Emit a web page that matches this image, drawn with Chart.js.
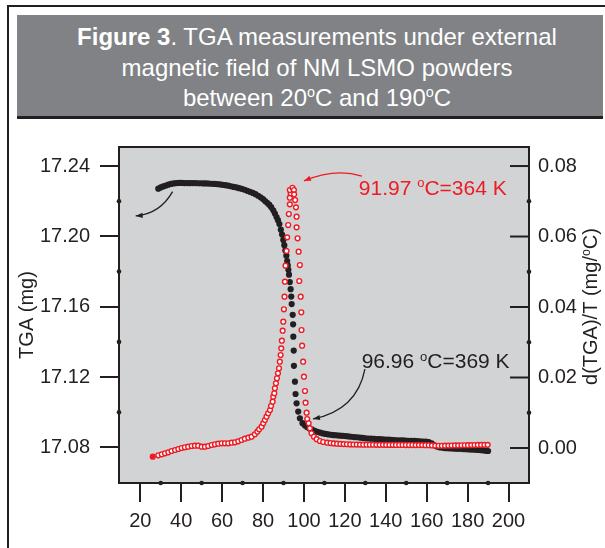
<!DOCTYPE html>
<html>
<head>
<meta charset="utf-8">
<script src="https://cdn.jsdelivr.net/npm/chart.js@4.4.1/dist/chart.umd.min.js"></script>
<style>
html, body { margin: 0; padding: 0; background: #fff; width: 605px; height: 548px; overflow: hidden; }
#frame { position: absolute; left: 7px; top: 5px; width: 640px; height: 600px; border-left: 2px solid #231f20; border-top: 2px solid #231f20; }
#title {
    position: absolute; left: 17px; top: 15px; width: 586px; height: 104px; box-sizing: border-box;
    padding: 7px 0 0 14px; background: #808285; border-bottom: 3px solid #231f20;
    color: #fff; font-family: "Liberation Sans", Arial, sans-serif; font-size: 24px; line-height: 30.5px; text-align: center;
}
#title sup { font-size: 0.6em; vertical-align: 0.6em; line-height: 0; }
#chart { position: absolute; left: 0; top: 0; }
</style>
</head>
<body>
<div id="frame"></div>
<div id="title"><b>Figure 3</b>. TGA measurements under external<br>magnetic field of NM LSMO powders<br>between 20<sup>o</sup>C and 190<sup>o</sup>C</div>
<canvas id="chart" width="605" height="548"></canvas>
<script>
// TGA curve (left axis), temperature in degC, mass in mg
const tgaTemp = [
    28.8, 30.0, 31.2, 32.5, 33.7, 35.0, 36.3, 37.6, 39.0, 40.3,
    41.6, 43.0, 44.3, 45.6, 47.0, 48.3, 49.6, 51.0, 52.3, 53.6,
    55.0, 56.3, 57.6, 59.0, 60.3, 61.6, 63.0, 64.3, 65.6, 67.0,
    68.3, 69.6, 71.0, 72.3, 73.6, 75.0, 76.3, 77.6, 78.8, 80.0,
    81.0, 82.0, 83.0, 84.0, 85.0, 85.8, 86.6, 87.3, 88.0, 88.7,
    89.3, 89.9, 90.4, 90.9, 91.4, 91.8, 92.1,
    92.4, 92.7, 93.1, 93.5, 93.8, 94.0, 94.5, 94.7, 94.8, 95.0,
    95.1, 95.6, 95.9, 96.4, 97.2, 98.0, 99.3, 100.5, 101.5, 102.7,
    104.0, 105.3, 106.6, 108.0, 109.3, 110.6, 112.0,
    113.4, 114.8, 116.2, 117.6, 119.0, 120.4, 121.8, 123.2, 124.6, 126.0,
    127.4, 128.8, 130.2, 131.6, 133.0, 134.4, 135.8, 137.2, 138.6, 140.0,
    141.4, 142.8, 144.2, 145.6, 147.0, 148.4, 149.8, 151.2, 152.6, 154.0,
    155.4, 156.8, 158.2, 159.6, 161.0, 162.4, 163.8, 165.2, 166.6, 168.0,
    169.4, 170.8, 172.2, 173.6, 175.0, 176.4, 177.8, 179.2, 180.6, 182.0,
    183.4, 184.8, 186.2, 187.6, 189.0, 190.0
];
const tgaMass = [
    17.2271, 17.2278, 17.2284, 17.2289, 17.2294, 17.2298, 17.2301, 17.2303, 17.2304, 17.2304,
    17.2303, 17.2303, 17.2303, 17.2303, 17.2303, 17.2302, 17.2302, 17.2301, 17.2301, 17.2300,
    17.2299, 17.2298, 17.2297, 17.2295, 17.2293, 17.2291, 17.2288, 17.2285, 17.2281, 17.2278,
    17.2274, 17.2270, 17.2265, 17.2259, 17.2253, 17.2247, 17.2240, 17.2231, 17.2222, 17.2212,
    17.2201, 17.2191, 17.2180, 17.2166, 17.2148, 17.2130, 17.2110, 17.2092, 17.2070, 17.2038,
    17.2010, 17.1980, 17.1950, 17.1920, 17.1890, 17.1860, 17.1835,
    17.1810, 17.1782, 17.1740, 17.1700, 17.1658, 17.1615, 17.1554, 17.1500, 17.1430, 17.1351,
    17.1264, 17.1174, 17.1104, 17.1051, 17.1004, 17.0966, 17.0938, 17.0925, 17.0916, 17.0908,
    17.0902, 17.0895, 17.0889, 17.0884, 17.0880, 17.0877, 17.0874,
    17.0872, 17.0870, 17.0869, 17.0867, 17.0866, 17.0865, 17.0863, 17.0861, 17.0859, 17.0858,
    17.0856, 17.0854, 17.0852, 17.0851, 17.0850, 17.0849, 17.0848, 17.0847, 17.0846, 17.0845,
    17.0844, 17.0843, 17.0842, 17.0841, 17.0840, 17.0840, 17.0839, 17.0838, 17.0838, 17.0837,
    17.0836, 17.0835, 17.0834, 17.0833, 17.0831, 17.0824, 17.0812, 17.0804, 17.0800, 17.0798,
    17.0796, 17.0795, 17.0794, 17.0793, 17.0792, 17.0792, 17.0791, 17.0790, 17.0789, 17.0788,
    17.0787, 17.0786, 17.0785, 17.0783, 17.0781, 17.0780
];

// derivative curve (right axis), mg/degC
const dtgTemp = [
    26.1, 28.8, 30.5, 32.1, 33.7, 35.3, 37.0, 38.6, 40.2, 41.8,
    43.4, 45.1, 46.7, 48.3, 50.0, 51.6, 53.2, 54.9, 56.5, 58.1,
    59.8, 61.4, 63.0, 64.7, 66.3, 67.9, 69.5, 71.1, 72.8, 74.4,
    76.0, 77.2, 78.1, 79.3, 80.1, 80.9, 81.7, 82.5, 83.4, 83.9,
    84.7, 85.0, 85.5, 85.8, 86.3, 86.8, 87.3, 87.8, 88.2, 88.6,
    88.9, 89.2, 89.6, 89.9, 90.2, 90.5, 90.7, 91.0, 91.5, 91.8,
    92.3, 92.6, 93.1, 93.1, 93.5, 93.1, 94.4, 95.1, 95.2, 95.7,
    96.1, 96.4, 96.4, 96.9, 97.4, 98.0, 97.7, 98.4, 98.7, 98.8,
    99.1, 99.6, 100.0, 100.5, 100.8, 101.3, 101.6, 102.3, 102.9, 103.7,
    104.9, 106.2, 107.8, 109.4, 111.4, 113.0, 114.6, 116.2, 117.8, 119.4,
    121.0, 122.6, 124.2, 125.8, 127.4, 129.0, 130.6, 132.2, 133.8, 135.4,
    137.0, 138.6, 140.2, 141.8, 143.4, 145.0, 146.6, 148.2, 149.8, 151.4,
    153.0, 154.6, 156.2, 157.8, 159.4, 161.0, 162.6, 164.2, 165.8, 167.4,
    169.0, 170.6, 172.2, 173.8, 175.4, 177.0, 178.6, 180.2, 181.8, 183.4,
    185.0, 186.6, 188.2, 189.8
];
const dtgRate = [
    -0.00247, -0.00207, -0.00179, -0.00150, -0.00122, -0.00085, -0.00057, -0.00028, 0.00000, 0.00020,
    0.00037, 0.00057, 0.00065, 0.00065, 0.00037, 0.00037, 0.00057, 0.00085, 0.00105, 0.00122,
    0.00133, 0.00133, 0.00133, 0.00150, 0.00162, 0.00190, 0.00227, 0.00264, 0.00292, 0.00321,
    0.00389, 0.00462, 0.00530, 0.00604, 0.00700, 0.00794, 0.00888, 0.00984, 0.01078, 0.01191,
    0.01313, 0.01455, 0.01552, 0.01694, 0.01835, 0.01977, 0.02119, 0.02261, 0.02448, 0.02638,
    0.02828, 0.03044, 0.03328, 0.03583, 0.03935, 0.04292, 0.04718, 0.05172, 0.05589, 0.05977,
    0.06326, 0.06638, 0.06913, 0.07101, 0.07226, 0.07319, 0.07384, 0.07319, 0.07197, 0.07035,
    0.06828, 0.06562, 0.06261, 0.05949, 0.05569, 0.05191, 0.04738, 0.04292, 0.03850, 0.03348,
    0.02902, 0.02448, 0.02023, 0.01617, 0.01285, 0.01001, 0.00823, 0.00701, 0.00559, 0.00417,
    0.00321, 0.00250, 0.00199, 0.00170, 0.00150, 0.00140, 0.00130, 0.00122, 0.00116, 0.00110,
    0.00106, 0.00102, 0.00100, 0.00098, 0.00096, 0.00094, 0.00094, 0.00092, 0.00092, 0.00090,
    0.00090, 0.00090, 0.00088, 0.00088, 0.00088, 0.00086, 0.00086, 0.00086, 0.00084, 0.00084,
    0.00084, 0.00082, 0.00082, 0.00082, 0.00080, 0.00078, 0.00072, 0.00066, 0.00064, 0.00064,
    0.00066, 0.00068, 0.00070, 0.00072, 0.00074, 0.00076, 0.00078, 0.00080, 0.00082, 0.00084,
    0.00086, 0.00088, 0.00090, 0.00090
];

const xTicks = [20, 40, 60, 80, 100, 120, 140, 160, 180, 200];
const xDots = [30, 50, 70, 90, 110, 130, 150, 170, 190];
const tgaTicks = [17.08, 17.12, 17.16, 17.20, 17.24];
const tgaDots = [17.10, 17.14, 17.18, 17.22];
const dtgTicks = [0.00, 0.02, 0.04, 0.06, 0.08];
const dtgDots = [0.01, 0.03, 0.05, 0.07];

const ink = '#231f20';
const red = '#ed1c24';
const FONT = '"Liberation Sans", Arial, sans-serif';

// labels and arrows, anchored in data units (x, TGA axis)
const notes = [
    { parts: [['91.97 ', false], ['o', true], ['C=364 K', false]], x: 126.8, y: 17.2278, color: red },
    { parts: [['96.96 ', false], ['o', true], ['C=369 K', false]], x: 128.2, y: 17.1293, color: ink }
];
const arrows = [
    { from: [128.3, 17.2343], via: [115.1, 17.2389], to: [100.0, 17.2315], color: red },
    { from: [129.8, 17.1246], via: [125.9, 17.1013], to: [104.4, 17.0962], color: ink },
    { from: [35.8, 17.2254], via: [29.6, 17.2127], to: [17.75, 17.2116], color: ink }
];

function richText(ctx, parts, x, y, size, align) {
    let w = 0;
    parts.forEach(([t, sup]) => {
        ctx.font = (sup ? size * 0.62 : size) + 'px ' + FONT;
        w += ctx.measureText(t).width;
    });
    let cx = align === 'center' ? x - w / 2 : x;
    parts.forEach(([t, sup]) => {
        ctx.font = (sup ? size * 0.62 : size) + 'px ' + FONT;
        ctx.fillText(t, cx, sup ? y - size * 0.36 : y);
        cx += ctx.measureText(t).width;
    });
}

const framePlugin = {
    id: 'frame',
    beforeDraw(chart) {
        const { ctx, chartArea: a } = chart;
        ctx.save();
        ctx.fillStyle = '#d1d3d4';
        ctx.fillRect(a.left, a.top, a.right - a.left, a.bottom - a.top);
        ctx.restore();
    },
    afterDraw(chart) {
        const { ctx, chartArea: a, scales } = chart;
        const x = scales.x, y = scales.y, y2 = scales.y2;
        ctx.save();
        ctx.strokeStyle = ink;
        ctx.fillStyle = ink;
        ctx.lineWidth = 2;
        ctx.strokeRect(a.left, a.top, a.right - a.left, a.bottom - a.top);

        // right axis ticks point inwards
        dtgTicks.forEach(v => {
            const py = y2.getPixelForValue(v);
            ctx.beginPath();
            ctx.moveTo(a.right - 19, py);
            ctx.lineTo(a.right, py);
            ctx.stroke();
        });

        const dot = (px, py) => {
            ctx.beginPath();
            ctx.arc(px, py, 2.3, 0, Math.PI * 2);
            ctx.fill();
        };
        xDots.forEach(v => dot(x.getPixelForValue(v), a.bottom));
        tgaDots.forEach(v => dot(a.left, y.getPixelForValue(v)));
        dtgDots.forEach(v => dot(a.right, y2.getPixelForValue(v)));

        // curved arrows
        arrows.forEach(ar => {
            const p0 = [x.getPixelForValue(ar.from[0]), y.getPixelForValue(ar.from[1])];
            const c = [x.getPixelForValue(ar.via[0]), y.getPixelForValue(ar.via[1])];
            const p2 = [x.getPixelForValue(ar.to[0]), y.getPixelForValue(ar.to[1])];
            ctx.strokeStyle = ar.color;
            ctx.fillStyle = ar.color;
            ctx.lineWidth = 1.3;
            ctx.beginPath();
            ctx.moveTo(p0[0], p0[1]);
            ctx.quadraticCurveTo(c[0], c[1], p2[0], p2[1]);
            ctx.stroke();
            const ang = Math.atan2(p2[1] - c[1], p2[0] - c[0]);
            ctx.beginPath();
            ctx.moveTo(p2[0], p2[1]);
            ctx.lineTo(p2[0] - 7 * Math.cos(ang) + 2.6 * Math.sin(ang), p2[1] - 7 * Math.sin(ang) - 2.6 * Math.cos(ang));
            ctx.lineTo(p2[0] - 7 * Math.cos(ang) - 2.6 * Math.sin(ang), p2[1] - 7 * Math.sin(ang) + 2.6 * Math.cos(ang));
            ctx.closePath();
            ctx.fill();
        });

        ctx.textBaseline = 'alphabetic';
        ctx.textAlign = 'left';
        notes.forEach(n => {
            ctx.fillStyle = n.color;
            richText(ctx, n.parts, x.getPixelForValue(n.x), y.getPixelForValue(n.y) + 7.5, 21, 'left');
        });

        // right axis title, reading bottom to top
        ctx.fillStyle = ink;
        ctx.translate(a.right + 61, (a.top + a.bottom) / 2 - 8.5);
        ctx.rotate(-Math.PI / 2);
        richText(ctx, [['d(TGA)/T (mg/', false], ['o', true], ['C)', false]], 0, 7.2, 20, 'center');
        ctx.restore();
    }
};

const axisGrid = {
    drawOnChartArea: false, drawTicks: true, tickLength: 19,
    lineWidth: 2, tickWidth: 2, color: ink, tickColor: ink
};

new Chart(document.getElementById('chart').getContext('2d'), {
    type: 'scatter',
    data: {
        datasets: [
            {
                label: 'd(TGA)/T',
                data: dtgTemp.map((t, i) => ({ x: t, y: dtgRate[i] })),
                yAxisID: 'y2',
                pointRadius: 2.4,
                pointBorderWidth: 1.4,
                pointBorderColor: red,
                pointBackgroundColor: dtgTemp.map((t, i) => i === 0 ? red : '#ffffff'),
                order: 0
            },
            {
                label: 'TGA',
                data: tgaTemp.map((t, i) => ({ x: t, y: tgaMass[i] })),
                yAxisID: 'y',
                pointRadius: 3.1,
                pointBorderWidth: 0,
                pointBackgroundColor: ink,
                order: 1
            }
        ]
    },
    options: {
        responsive: false,
        animation: false,
        events: [],
        layout: { padding: { top: 147, left: 0, right: 0, bottom: 0 } },
        plugins: { legend: { display: false }, tooltip: { enabled: false } },
        scales: {
            x: {
                type: 'linear', position: 'bottom', min: 9.6, max: 210,
                afterBuildTicks: s => { s.ticks = xTicks.map(v => ({ value: v })); },
                afterFit: s => { s.height = 65; },
                grid: axisGrid,
                border: { display: false },
                ticks: { font: { family: FONT, size: 20 }, color: ink, padding: 7, maxRotation: 0, autoSkip: false }
            },
            y: {
                type: 'linear', position: 'left', min: 17.0598, max: 17.2508,
                afterBuildTicks: s => { s.ticks = tgaTicks.map(v => ({ value: v })); },
                afterFit: s => { s.width = 119; },
                grid: axisGrid,
                border: { display: false },
                ticks: { font: { family: FONT, size: 20 }, color: ink, padding: 10, callback: v => v.toFixed(2) },
                title: { display: true, text: 'TGA (mg)', color: ink, font: { family: FONT, size: 20 }, padding: { top: 15, bottom: 0 } }
            },
            y2: {
                type: 'linear', position: 'right', min: -0.00993, max: 0.0854,
                afterBuildTicks: s => { s.ticks = dtgTicks.map(v => ({ value: v })); },
                afterFit: s => { s.width = 76; },
                grid: { display: false, drawTicks: false },
                border: { display: false },
                ticks: { font: { family: FONT, size: 20 }, color: ink, padding: 9, callback: v => v.toFixed(2) }
            }
        }
    },
    plugins: [framePlugin]
});
</script>
</body>
</html>
